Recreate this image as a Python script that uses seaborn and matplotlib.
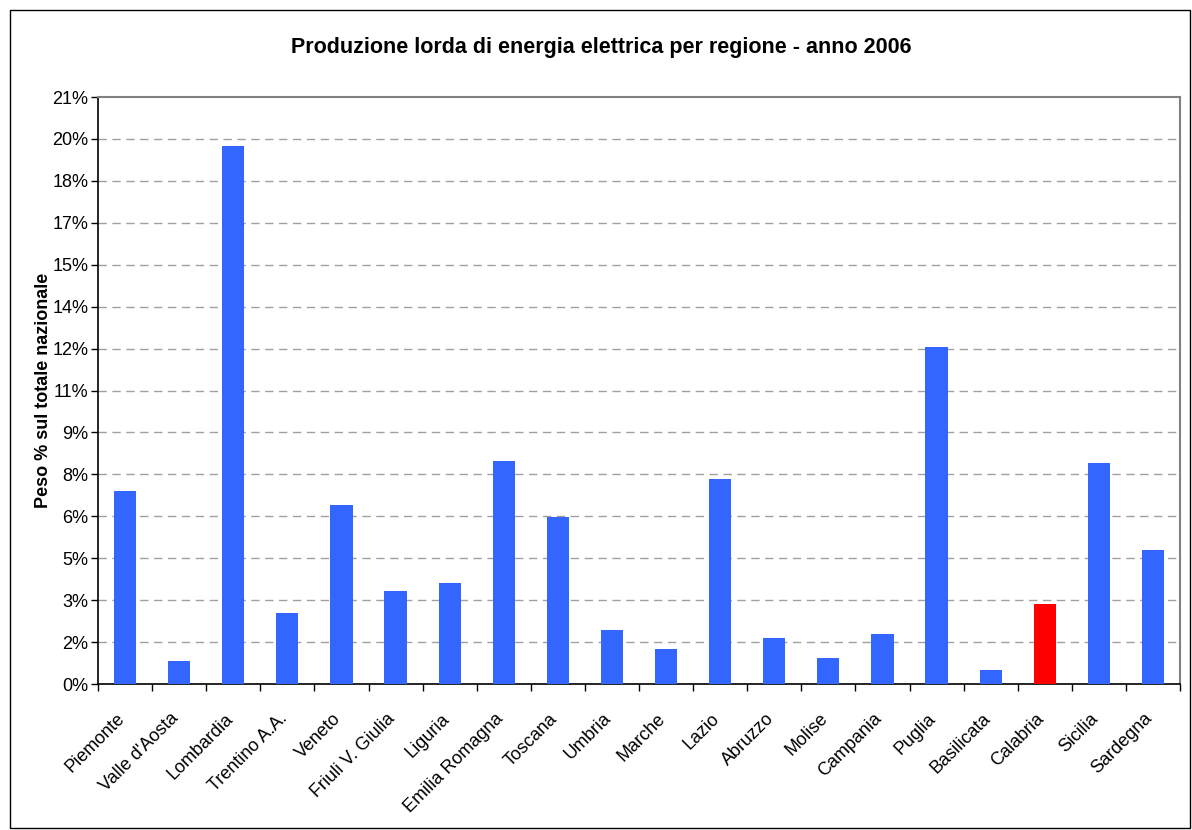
import matplotlib
matplotlib.use("Agg")
import matplotlib.pyplot as plt
import matplotlib.transforms as mtransforms
import seaborn as sns
import pandas as pd
from matplotlib.patches import Rectangle

regions = ["Piemonte", "Valle d'Aosta", "Lombardia", "Trentino A.A.", "Veneto",
           "Friuli V. Giulia", "Liguria", "Emilia Romagna", "Toscana", "Umbria",
           "Marche", "Lazio", "Abruzzo", "Molise", "Campania", "Puglia",
           "Basilicata", "Calabria", "Sicilia", "Sardegna"]
values = [6.92, 0.83, 19.25, 2.55, 6.41, 3.34, 3.62, 7.99, 5.99, 1.94,
          1.26, 7.35, 1.66, 0.94, 1.80, 12.04, 0.50, 2.86, 7.91, 4.79]
highlight = "Calabria"
ytick_values = [0, 1.5, 3, 4.5, 6, 7.5, 9, 10.5, 12, 13.5, 15, 16.5, 18, 19.5, 21]
ytick_labels = ["0%", "2%", "3%", "5%", "6%", "8%", "9%", "11%", "12%", "14%",
                "15%", "17%", "18%", "20%", "21%"]

sns.set_theme(style="white")
plt.rcParams['font.family'] = ['Liberation Sans', 'DejaVu Sans']
plt.rcParams['text.color'] = 'black'
plt.rcParams['axes.labelcolor'] = 'black'
plt.rcParams['xtick.color'] = 'black'
plt.rcParams['ytick.color'] = 'black'

df = pd.DataFrame({"regione": regions, "valore": values})
palette = {r: ("#FF0000" if r == highlight else "#3366FF") for r in regions}

fig = plt.figure(figsize=(11.92, 8.30), dpi=100)
ax = fig.add_axes([98/1192, 1-684/830, (1180-98)/1192, (684-97)/830])

sns.barplot(data=df, x="regione", y="valore", hue="regione", palette=palette,
            legend=False, width=0.41, saturation=1, linewidth=0, ax=ax, zorder=3)

ax.set_ylim(0, 21)
ax.set_xlim(-0.5, len(regions) - 0.5)
ax.set_yticks(ytick_values)
ax.set_yticklabels(ytick_labels, fontsize=13)
for y in ytick_values[1:-1]:
    ax.axhline(y, color="#A0A0A0", linestyle=(0, (6, 4)), linewidth=1, zorder=1)

ax.set_xticks(range(len(regions)))
ax.set_xticklabels(regions, rotation=45, ha="right", rotation_mode="anchor", fontsize=13)
ax.tick_params(axis="x", which="major", length=0, pad=8)
offset = mtransforms.ScaledTranslation(-9/100, -15/100, fig.dpi_scale_trans)
for lab in ax.get_xticklabels():
    lab.set_transform(lab.get_transform() + offset)
ax.set_xticks([i - 0.5 for i in range(len(regions) + 1)], minor=True)
ax.tick_params(axis="x", which="minor", length=5, width=1, color="black", direction="out", bottom=True)
ax.tick_params(axis="y", length=5, width=1, color="black", direction="out", left=True, pad=2)

ax.set_xlabel("")
ax.set_ylabel("Peso % sul totale nazionale", fontsize=13, fontweight="bold", labelpad=0)
fig.text(0.5 + 5/1192, 1-47/830, "Produzione lorda di energia elettrica per regione - anno 2006",
         ha="center", va="center", fontsize=15.5, fontweight="bold")

for side in ["left", "bottom"]:
    ax.spines[side].set_color("black")
    ax.spines[side].set_linewidth(1.2)
for side in ["top", "right"]:
    ax.spines[side].set_color("#808080")
    ax.spines[side].set_linewidth(1.5)

fig.patches.append(Rectangle((10/1192, 2/830), 1180/1192, 818/830, transform=fig.transFigure,
                             fill=False, edgecolor="black", linewidth=1))

fig.savefig("out.png", dpi=100)
